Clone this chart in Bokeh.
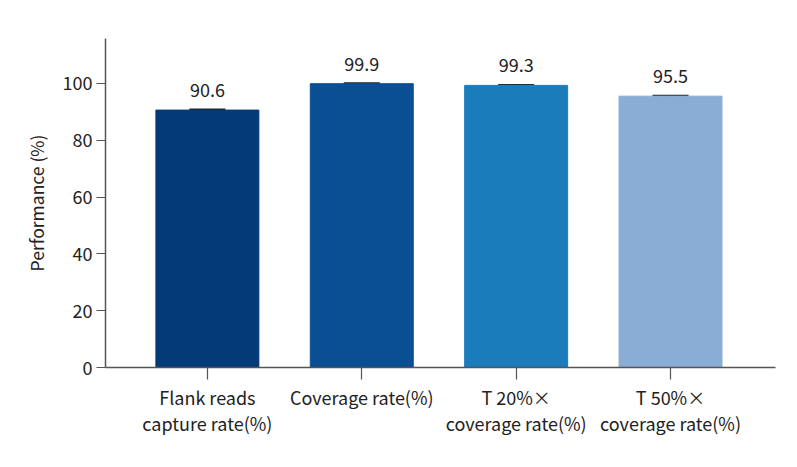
from bokeh.plotting import figure
from bokeh.models import ColumnDataSource, FixedTicker, Whisker, Range1d, TeeHead
from bokeh.embed import file_html
from bokeh.resources import INLINE
from bokeh.core.properties import value

categories = ["Flank reads\ncapture rate(%)", "Coverage rate(%)", "T 20%×\ncoverage rate(%)", "T 50%×\ncoverage rate(%)"]
values = [90.6, 99.9, 99.3, 95.5]
errors = [0.3, 0.2, 0.2, 0.2]
colors = ["#033a78", "#0a4f94", "#1b7cbc", "#8aadd5"]
y_ticks = [0, 20, 40, 60, 80, 100]

xs = list(range(1, len(categories) + 1))
src = ColumnDataSource(dict(x=xs, top=values, color=colors,
                            lab=[f"{v:.1f}" for v in values],
                            lower=[v - e for v, e in zip(values, errors)],
                            upper=[v + e for v, e in zip(values, errors)]))

FONT = "Noto Sans CJK SC"
p = figure(width=789, height=459, output_backend="svg", toolbar_location=None,
           x_range=Range1d(0.34, 4.68), y_range=Range1d(0, 115.8),
           min_border_left=105, min_border_right=14, min_border_top=38, min_border_bottom=92)
p.outline_line_color = None
p.grid.visible = False

p.vbar(x="x", top="top", width=0.667, color="color", source=src)
w = Whisker(source=src, base="x", lower="lower", upper="upper", dimension="height",
            line_color="#222222", line_width=1.2,
            upper_head=TeeHead(size=36, line_color="#222222", line_width=1.6),
            lower_head=None)
p.add_layout(w)
p.text(x="x", y="top", text="lab", source=src, text_align="center", text_baseline="bottom",
       y_offset=-13, text_font=value(FONT), text_font_size="18px", text_color="#222222")

p.yaxis.ticker = FixedTicker(ticks=y_ticks)
p.yaxis.axis_label = "Performance (%)"
p.xaxis.ticker = FixedTicker(ticks=xs)
p.xaxis.major_label_overrides = {x: c for x, c in zip(xs, categories)}
for ax in (p.xaxis, p.yaxis):
    ax.axis_line_color = "#555555"
    ax.axis_line_width = 1.5
    ax.major_tick_line_color = "#555555"
    ax.major_tick_line_width = 1.2
    ax.major_tick_in = 0
    ax.minor_tick_line_color = None
    ax.major_label_text_font = FONT
    ax.major_label_text_font_size = "18px"
    ax.major_label_text_color = "#222222"
p.xaxis.major_label_text_line_height = 1.0
p.yaxis.major_tick_out = 9
p.xaxis.major_tick_out = 12
p.yaxis.major_label_standoff = 4
p.xaxis.major_label_standoff = 4
p.yaxis.axis_label_text_font = FONT
p.yaxis.axis_label_text_font_size = "17.5px"
p.yaxis.axis_label_text_font_style = "normal"
p.yaxis.axis_label_text_color = "#222222"
p.yaxis.axis_label_standoff = 11

open("out.html", "w").write(file_html(p, INLINE))
